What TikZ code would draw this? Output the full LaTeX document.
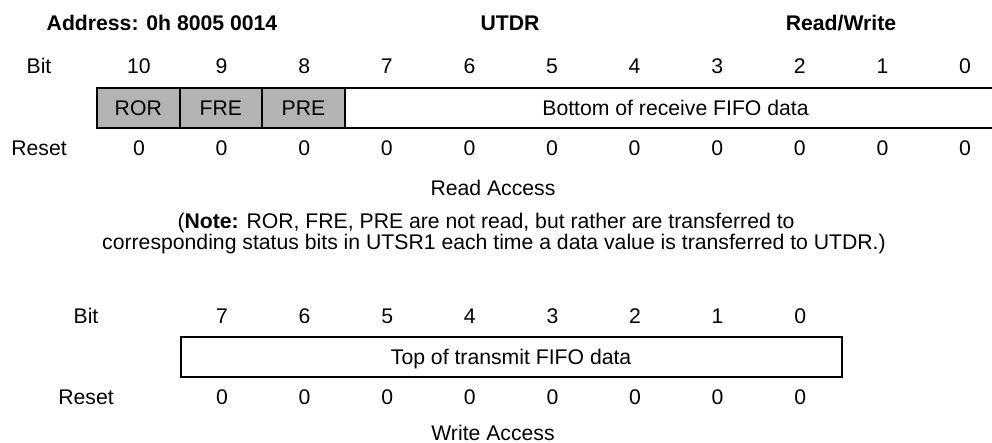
\documentclass[tikz,border=0pt]{standalone}
\usepackage{fontspec}
\setmainfont{Liberation Sans}
\definecolor{regGray}{RGB}{179,179,179}
\begin{document}
\begin{tikzpicture}[x=0.5pt,y=-0.5pt,
  every node/.style={font=\fontsize{10.6}{12.7}\selectfont, inner sep=0pt, text height=7.6pt, text depth=0pt},
  hd/.style={font=\fontsize{10.6}{12.7}\selectfont\bfseries},
  cellg/.style={draw, line width=1pt, fill=regGray, minimum height=20pt},
  cellw/.style={draw, line width=1pt, fill=white, minimum height=20pt}]
\useasboundingbox (0,0) rectangle (992,443);
\clip (0,0) rectangle (992,443);
% header
\node[hd] (addr) at (162,23) {Address: 0h 8005 0014};
\node[hd] (name) at (510,23) {UTDR};
\node[hd] (rw) at (841,23) {Read/Write};
% top register
\node (bitT) at (39,66) {Bit};
\node (rstT) at (39,148) {Reset};
\foreach \b [count=\i from 0] in {10,9,8,7,6,5,4,3,2,1,0} {
  \node (tb\b) at (139+82.6*\i,66) {\b};
  \node (tr\b) at (139+82.6*\i,148) {0};
}
\node[cellg, minimum width=41.3pt] (ror) at (138.3,108) {ROR};
\node[cellg, minimum width=41.3pt] (fre) at (220.9,108) {FRE};
\node[cellg, minimum width=41.3pt] (pre) at (303.5,108) {PRE};
\node[cellw, minimum width=330.4pt] (rxd) at (675.2,108) {};
\node (rxt) at (675.5,108) {Bottom of receive FIFO data};
\node (racc) at (493,188) {Read Access};
\node (note1) at (486,221) {(\textbf{Note:} ROR, FRE, PRE are not read, but rather are transferred to};
\node (note2) at (494,242) {corresponding status bits in UTSR1 each time a data value is transferred to UTDR.)};
% bottom register
\node (bitB) at (86,316) {Bit};
\node (rstB) at (86,397) {Reset};
\foreach \b [count=\i from 0] in {7,6,5,4,3,2,1,0} {
  \node (bb\b) at (222+82.6*\i,316) {\b};
  \node (br\b) at (222+82.6*\i,397) {0};
}
\node[cellw, minimum width=330.4pt] (txd) at (511.1,357) {};
\node (txt) at (511.1,357) {Top of transmit FIFO data};
\node (wacc) at (493,433) {Write Access};
\end{tikzpicture}
\end{document}
